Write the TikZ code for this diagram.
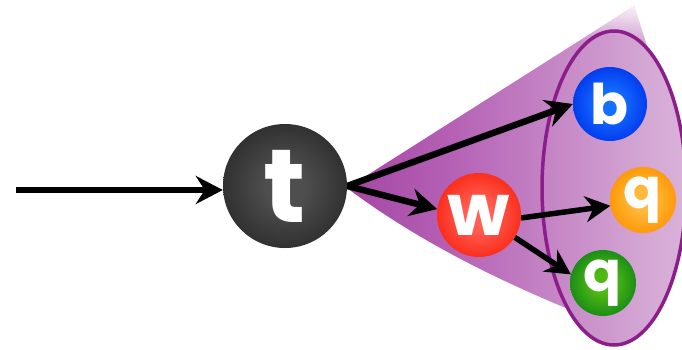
\documentclass[tikz,border=0pt]{standalone}
\usepackage{fontspec}
\newfontfamily\ballfontfam{Poppins}
\newcommand\ballfont{\ballfontfam\bfseries}
\usetikzlibrary{arrows.meta,fadings}

\definecolor{conedark}{RGB}{138,28,138}
\definecolor{conemid}{RGB}{180,95,180}
\definecolor{conelight}{RGB}{212,168,212}
\definecolor{conepale}{RGB}{236,220,236}
\definecolor{rim}{RGB}{140,30,140}
\colorlet{ballin}{white}
\colorlet{ballout}{black}

% horizontal purple fade of the jet cone
\pgfdeclarehorizontalshading{conefade}{100bp}{%
  color(0bp)=(conedark); color(40bp)=(conemid);
  color(70bp)=(conelight); color(100bp)=(conepale)}
% glowing particle spheres
\pgfdeclareradialshading[ballin,ballout]{glow}{\pgfpoint{0bp}{0bp}}{%
  color(0bp)=(ballin); color(8bp)=(ballin);
  color(28bp)=(ballout); color(50bp)=(ballout!85!black)}

\pgfdeclarelayer{jetlayer}
\pgfdeclarelayer{arrowlayer}
\pgfsetlayers{jetlayer,arrowlayer,main}

\tikzset{
  ball/.style n args={3}{circle, inner sep=0pt, minimum size=#3,
    /utils/exec={\colorlet{ballin}{#1}\colorlet{ballout}{#2}},
    shade, shading=glow, text=white},
  arr/.style={line width=6.5pt, -{Stealth[length=27pt,width=28pt,inset=9pt]}},
  sarr/.style={line width=5.5pt, -{Stealth[length=25pt,width=26pt,inset=8pt]}},
}

\begin{document}
\begin{tikzpicture}[x=1pt,y=-1pt]
\useasboundingbox (0,0) rectangle (682,349);

\begin{pgfonlayer}{jetlayer}
% jet cone
\begin{scope}
  \clip (347,188) .. controls (430,250) and (520,290) .. (600,322)
        -- (655,70) -- (634,6) -- cycle;
  \shade[shading=conefade] (345,0) rectangle (682,349);
  \fill[white, path fading=south] (560,0) rectangle (682,42);
\end{scope}
% jet ellipse
\begin{scope}
  \clip (614,188) ellipse [x radius=72pt, y radius=157pt];
  \shade[shading=conefade] (345,0) rectangle (682,349);
\end{scope}
\draw[rim, line width=3.5pt] (614,188) ellipse [x radius=72pt, y radius=157pt];
\end{pgfonlayer}

% particles
\node[ball={rgb,255:red,78;green,78;blue,78}{rgb,255:red,44;green,44;blue,44}{124pt},
  font=\ballfont\fontsize{104}{104}\selectfont] (t) at (285,186) {t};
\node[ball={rgb,255:red,255;green,95;blue,85}{rgb,255:red,250;green,38;blue,18}{84pt},
  font=\ballfont\fontsize{72}{72}\selectfont] (w) at (479,215) {w};
\node[ball={rgb,255:red,20;green,110;blue,255}{rgb,255:red,0;green,52;blue,235}{74pt},
  font=\ballfont\fontsize{56}{56}\selectfont] (b) at (610,104) {b};
\node[ball={rgb,255:red,255;green,185;blue,60}{rgb,255:red,255;green,148;blue,0}{66pt},
  font=\ballfont\fontsize{56}{56}\selectfont] (oq) at (643,200) {q};
\node[ball={rgb,255:red,80;green,185;blue,20}{rgb,255:red,18;green,135;blue,22}{66pt},
  font=\ballfont\fontsize{56}{56}\selectfont] (gq) at (603,283) {q};

% decay arrows
\coordinate (in) at (16,190);
\begin{pgfonlayer}{arrowlayer}
\draw[arr] (in) -- (in -| t.west);
\draw[arr] (t.east) -- (b.west);
\draw[arr] (t.east) -- (w.172);
\draw[sarr] (w.-4) -- (oq.190);
\draw[sarr] (w.-32) -- (gq.165);
\end{pgfonlayer}
\end{tikzpicture}
\end{document}
